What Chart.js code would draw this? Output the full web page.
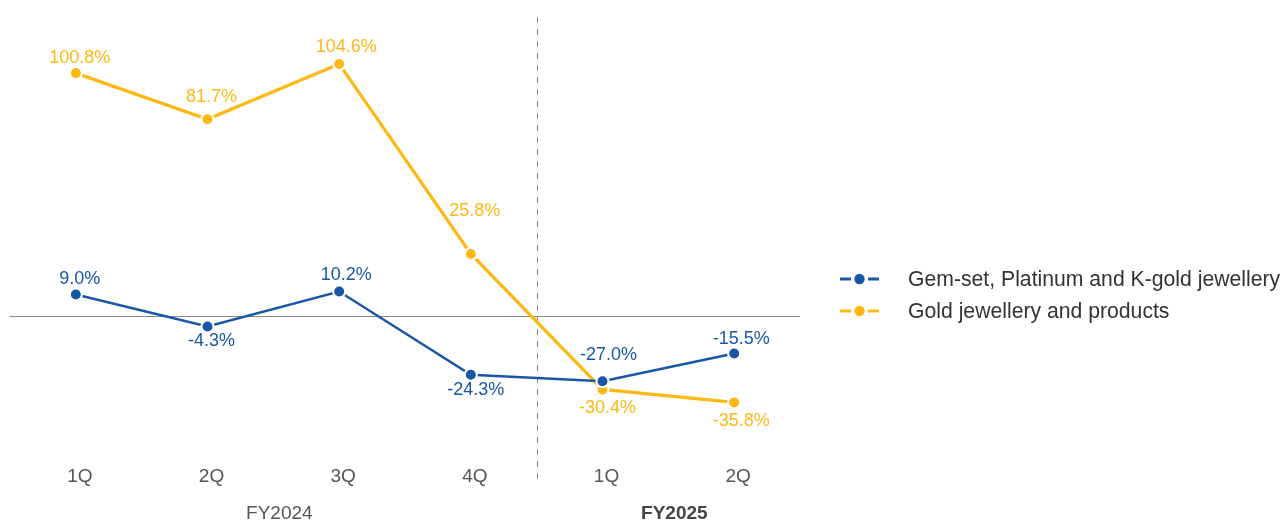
<!DOCTYPE html>
<html>
<head>
<meta charset="utf-8">
<script src="https://cdn.jsdelivr.net/npm/chart.js@4.4.1/dist/chart.umd.min.js"></script>
<style>
html,body{margin:0;padding:0;background:#fff;}
#wrap{position:relative;width:1284px;height:520px;overflow:hidden;}
#chart{position:absolute;left:0;top:0;}
#legend{position:absolute;left:840px;top:263px;font-family:"Liberation Sans",Arial,sans-serif;font-size:21.2px;color:#333;}
.item{display:flex;align-items:center;height:32px;white-space:nowrap;}
.item svg{margin-right:28px;flex:none;}
</style>
</head>
<body>
<div id="wrap">
  <canvas id="chart" width="1284" height="520"></canvas>
  <div id="legend"></div>
</div>
<script>
// ---- data ----
const categories = ['1Q', '2Q', '3Q', '4Q', '1Q', '2Q'];
const fiscalYears = ['FY2024', 'FY2024', 'FY2024', 'FY2024', 'FY2025', 'FY2025'];
const gemSetValues = [9.0, -4.3, 10.2, -24.3, -27.0, -15.5];
const goldValues = [100.8, 81.7, 104.6, 25.8, -30.4, -35.8];
const seriesNames = ['Gem-set, Platinum and K-gold jewellery', 'Gold jewellery and products'];

// ---- styles ----
const BLUE = '#1957A6';
const YELLOW = '#FDB813';
const FONT = "'Liberation Sans', Arial, sans-serif";
// label nudges [dx, dy] relative to each point (style only)
const labelNudges = [
  [[4,-15],[4,15],[7,-17],[5,15],[6,-26],[7,-14]],
  [[4,-15],[4,-22],[7,-17],[4,-43],[5,19],[7,19]]
];

const decorPlugin = {
  id: 'decor',
  beforeDatasetsDraw(chart) {
    const {ctx, chartArea, scales} = chart;
    const y0 = Math.round(scales.y.getPixelForValue(0)) + 0.5;
    ctx.save();
    ctx.strokeStyle = '#8a8a8a';
    ctx.lineWidth = 1;
    ctx.beginPath();
    ctx.moveTo(chartArea.left, y0);
    ctx.lineTo(chartArea.right, y0);
    ctx.stroke();
    // divider between fiscal years
    for (let i = 1; i < fiscalYears.length; i++) {
      if (fiscalYears[i] !== fiscalYears[i-1]) {
        const x = Math.round((scales.x.getPixelForValue(i-1) + scales.x.getPixelForValue(i)) / 2) + 0.5;
        ctx.setLineDash([6, 6]);
        ctx.strokeStyle = '#8a8a8a';
        ctx.beginPath();
        ctx.moveTo(x, 17);
        ctx.lineTo(x, 479);
        ctx.stroke();
      }
    }
    ctx.restore();
  },
  afterDatasetsDraw(chart) {
    const {ctx} = chart;
    ctx.save();
    ctx.font = '18px ' + FONT;
    ctx.textAlign = 'center';
    ctx.textBaseline = 'middle';
    chart.data.datasets.forEach((ds, di) => {
      const meta = chart.getDatasetMeta(di);
      meta.data.forEach((pt, i) => {
        const [dx, dy] = labelNudges[di][i];
        ctx.fillStyle = ds.borderColor;
        ctx.fillText(ds.data[i].toFixed(1) + '%', pt.x + dx, pt.y + dy);
      });
    });
    // fiscal year group labels
    const xs = chart.scales.x;
    const groups = [];
    fiscalYears.forEach((fy, i) => {
      let g = groups.find(g => g.name === fy);
      if (!g) { g = {name: fy, first: i, last: i}; groups.push(g); }
      g.last = i;
    });
    groups.forEach((g, gi) => {
      const cx = (xs.getPixelForValue(g.first) + xs.getPixelForValue(g.last)) / 2 + 6;
      const bold = gi === groups.length - 1;
      ctx.font = (bold ? 'bold ' : '') + '19px ' + FONT;
      ctx.fillStyle = bold ? '#444' : '#555';
      ctx.fillText(g.name, cx, 514);
    });
    ctx.restore();
  }
};

const chart = new Chart(document.getElementById('chart'), {
  type: 'line',
  data: {
    labels: categories,
    datasets: [
      {
        label: seriesNames[0],
        data: gemSetValues,
        borderColor: BLUE,
        backgroundColor: BLUE,
        borderWidth: 2.5,
        pointRadius: 6,
        pointBorderWidth: 2,
        pointBorderColor: '#fff',
        pointBackgroundColor: BLUE,
        tension: 0,
        clip: false
      },
      {
        label: seriesNames[1],
        data: goldValues,
        borderColor: YELLOW,
        backgroundColor: YELLOW,
        borderWidth: 3.2,
        pointRadius: 6,
        pointBorderWidth: 2,
        pointBorderColor: '#fff',
        pointBackgroundColor: YELLOW,
        tension: 0,
        clip: false
      }
    ]
  },
  options: {
    responsive: false,
    animation: false,
    events: [],
    layout: { padding: { left: 10, right: 484, top: 41.3, bottom: 24.8 } },
    plugins: { legend: { display: false }, tooltip: { enabled: false } },
    scales: {
      x: {
        offset: true,
        grid: { display: false, drawTicks: false },
        border: { display: false },
        ticks: { color: '#555', font: { family: FONT, size: 19 }, padding: 7, labelOffset: 4, maxRotation: 0 }
      },
      y: {
        display: false,
        min: -59,
        max: 114
      }
    }
  },
  plugins: [decorPlugin]
});

// HTML legend
const legend = document.getElementById('legend');
[[seriesNames[0], BLUE], [seriesNames[1], YELLOW]].forEach(([name, col]) => {
  const row = document.createElement('div');
  row.className = 'item';
  row.innerHTML = '<svg width="40" height="12" viewBox="0 0 40 12">' +
    '<line x1="0" y1="6" x2="11" y2="6" stroke="' + col + '" stroke-width="3"/>' +
    '<line x1="28" y1="6" x2="39" y2="6" stroke="' + col + '" stroke-width="3"/>' +
    '<circle cx="19.5" cy="6" r="5.2" fill="' + col + '"/></svg>';
  const span = document.createElement('span');
  span.textContent = name;
  row.appendChild(span);
  legend.appendChild(row);
});
</script>
</body>
</html>
